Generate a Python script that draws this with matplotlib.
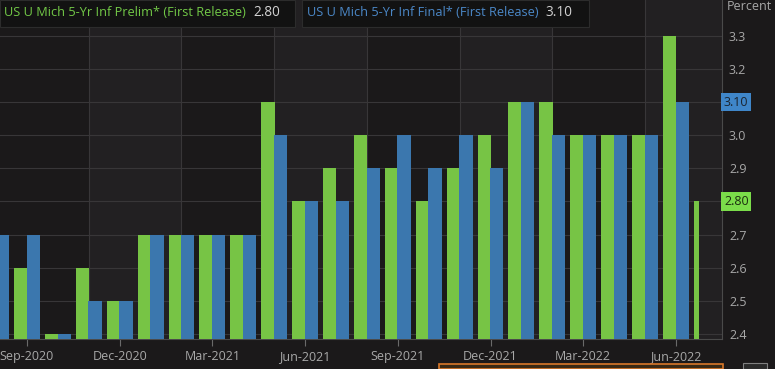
import matplotlib
matplotlib.use("Agg")
import matplotlib.pyplot as plt
from matplotlib.patches import Rectangle
from matplotlib.transforms import blended_transform_factory
import numpy as np

plt.rcParams['font.family'] = ['Open Sans', 'DejaVu Sans']

# ---- data ----
months = ['Aug-2020', 'Sep-2020', 'Oct-2020', 'Nov-2020', 'Dec-2020', 'Jan-2021',
          'Feb-2021', 'Mar-2021', 'Apr-2021', 'May-2021', 'Jun-2021', 'Jul-2021',
          'Aug-2021', 'Sep-2021', 'Oct-2021', 'Nov-2021', 'Dec-2021', 'Jan-2022',
          'Feb-2022', 'Mar-2022', 'Apr-2022', 'May-2022', 'Jun-2022', 'Jul-2022']
prelim = [2.7, 2.6, 2.4, 2.6, 2.5, 2.7, 2.7, 2.7, 2.7, 3.1, 2.8, 2.9,
          3.0, 2.9, 2.8, 2.9, 3.0, 3.1, 3.1, 3.0, 3.0, 3.0, 3.3, 2.8]
final = [2.7, 2.7, 2.4, 2.5, 2.5, 2.7, 2.7, 2.7, 2.7, 3.0, 2.8, 2.8,
         2.9, 3.0, 2.9, 3.0, 2.9, 3.1, 3.0, 3.0, 3.0, 3.0, 3.1, np.nan]
tick_months = ['Sep-2020', 'Dec-2020', 'Mar-2021', 'Jun-2021',
               'Sep-2021', 'Dec-2021', 'Mar-2022', 'Jun-2022']
grid_months = ['Nov-2020', 'Feb-2021', 'May-2021', 'Aug-2021',
               'Nov-2021', 'Feb-2022', 'May-2022']
y_ticks = [2.4, 2.5, 2.6, 2.7, 2.8, 2.9, 3.0, 3.1, 3.2, 3.3]
prelim_name = 'US U Mich 5-Yr Inf Prelim* (First Release)'
final_name = 'US U Mich 5-Yr Inf Final* (First Release)'
prelim_last = 2.80
final_last = 3.10

# ---- style ----
BG = '#1b191a'
BAND = '#222022'
GREEN = '#77c445'
BLUE = '#3b77ae'
GRID = '#383638'
TXT = '#a8a8a8'

W, H = 775, 369
fig = plt.figure(figsize=(W / 100, H / 100), dpi=100, facecolor=BG)
ax_left, ax_right, ax_bottom = 0, 722, 339
ax = fig.add_axes([ax_left / W, (H - ax_bottom) / H, (ax_right - ax_left) / W, ax_bottom / H])
ax.set_facecolor(BG)

x = np.arange(len(months))
bw = 0.43
pw = [bw] * len(months)
pw[-1] = 0.16  # partial last period
ax.bar(x - 0.42, prelim, width=pw, align='edge', color=GREEN, zorder=3)
ax.bar(x - 0.01, final, width=bw, align='edge', color=BLUE, zorder=3)

ax.set_xlim(1 - 27 / 30.9, 1 + 695 / 30.9)
ax.set_ylim(2.385, 3.408)

# alternating bands & vertical grid
gpos = [months.index(m) for m in grid_months]
edges = [ax.get_xlim()[0]] + gpos + [ax.get_xlim()[1]]
for k in range(len(edges) - 1):
    if k % 2 == 1:
        ax.axvspan(edges[k], edges[k + 1], color=BAND, zorder=0, lw=0)
for g in gpos:
    ax.axvline(g, color=GRID, lw=0.8, zorder=1)
for yv in y_ticks:
    ax.axhline(yv, color=GRID, lw=0.8, zorder=1)

# x ticks
ax.set_xticks([months.index(m) for m in tick_months])
ax.set_xticklabels(tick_months)
ax.tick_params(axis='x', colors='#6a6a6a', length=5, width=0.8, pad=3,
               labelcolor=TXT, labelsize=9)

# right y ticks
ax.yaxis.tick_right()
ax.set_yticks(y_ticks)
ylabels = ['' if abs(v - prelim_last) < 1e-9 or abs(v - final_last) < 1e-9 else f'{v:.1f}'
           for v in y_ticks]
ax.set_yticklabels(ylabels)
ax.tick_params(axis='y', length=0, pad=5, labelcolor=TXT, labelsize=9)

for s in ['top', 'left']:
    ax.spines[s].set_visible(False)
ax.spines['right'].set_color('#4a4a4a')
ax.spines['bottom'].set_color('#4a4a4a')
ax.spines['right'].set_linewidth(0.8)
ax.spines['bottom'].set_linewidth(0.8)

# last-value boxes on right axis
tr = blended_transform_factory(ax.transAxes, ax.transData)
ax.text(1.0 + 2 / 722, final_last, f'{final_last:.2f}', transform=tr, ha='left', va='center',
        fontsize=9, color='#1a2430', clip_on=False, zorder=6,
        bbox=dict(boxstyle='square,pad=0.22', fc='#3f86c9', ec='none'))
ax.text(1.0 + 2 / 722, prelim_last, f'{prelim_last:.2f}', transform=tr, ha='left', va='center',
        fontsize=9, color='#1c2e10', clip_on=False, zorder=6,
        bbox=dict(boxstyle='square,pad=0.22', fc='#7bdd4a', ec='none'))

# "Percent"
fig.text(727 / W, 1 - 7 / H, 'Percent', color=TXT, fontsize=9, ha='left', va='center')


def px(xp, yp):
    return xp / W, 1 - yp / H


# legend boxes
for (x0, x1) in [(0, 295), (302, 589)]:
    r = Rectangle(px(x0, 27), (x1 - x0) / W, 27 / H, transform=fig.transFigure,
                  fc='#121212', ec='#2c2c2c', lw=0.8, zorder=10)
    fig.add_artist(r)

renderer = fig.canvas.get_renderer()
LFS = 9.2
for (x0, name, val, col) in [(4, prelim_name, prelim_last, '#72c947'),
                             (307, final_name, final_last, '#4b88c8')]:
    t = fig.text(*px(x0, 12), name, color=col, fontsize=LFS, ha='left', va='center', zorder=11)
    bb = t.get_window_extent(renderer=renderer)
    fig.text((bb.x1 + 7) / W, 1 - 12 / H, f'{val:.2f}', color='#d2d2d2', fontsize=LFS + 0.6,
             ha='left', va='center', zorder=11)

# navigator & icon at bottom
fig.add_artist(Rectangle(px(439, 369), (723 - 439) / W, 5 / H, transform=fig.transFigure,
                         fc='#3a2914', ec='#d9782a', lw=1.2))
fig.add_artist(Rectangle(px(743, 369), 24 / W, 6 / H, transform=fig.transFigure,
                         fc='#2a2a2a', ec='#808080', lw=0.8))

fig.savefig('out.png', dpi=100, facecolor=BG)
